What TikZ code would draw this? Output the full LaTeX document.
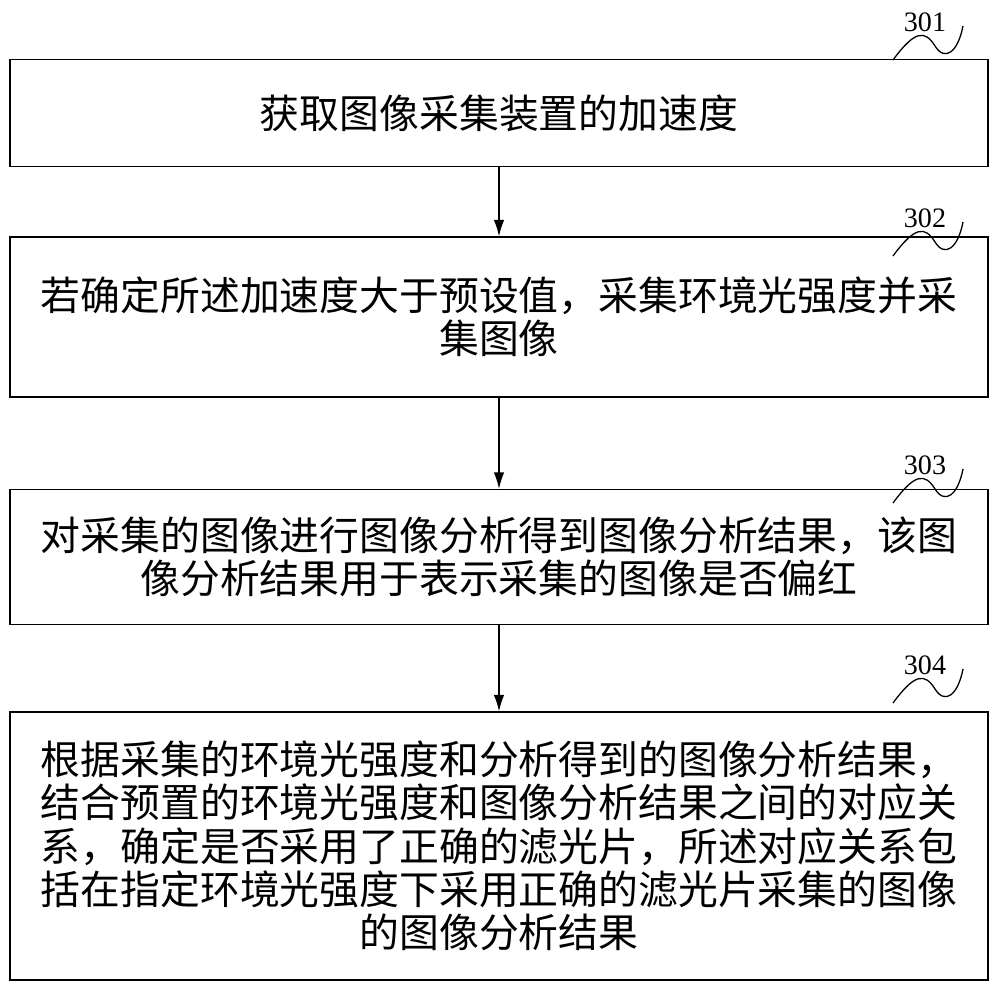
\documentclass[tikz,border=0pt]{standalone}
\usepackage{fontspec}
\newfontfamily\cjk{Noto Sans CJK SC}
\setmainfont{Liberation Serif}
\begin{document}
\begin{tikzpicture}[x=0.03cm,y=-0.03cm,
  box/.style={draw,line width=1.2pt,minimum width=978*0.03cm,align=center,font=\cjk\fontsize{34}{37}\selectfont,inner sep=0pt},
  arr/.style={-{Latex[length=14pt,width=9pt]},line width=1.1pt},
  lab/.style={font=\fontsize{24}{26}\selectfont,inner sep=0pt},
  sq/.style={line width=1.1pt}]
\usetikzlibrary{arrows.meta}
\useasboundingbox (0,0) rectangle (1000,993);
\node[box,minimum height=107*0.03cm] (b1) at (499,113) {获取图像采集装置的加速度};
\node[box,minimum height=160*0.03cm] (b2) at (499,317) {若确定所述加速度大于预设值，采集环境光强度并采\\集图像};
\node[box,minimum height=135*0.03cm] (b3) at (499,557) {对采集的图像进行图像分析得到图像分析结果，该图\\像分析结果用于表示采集的图像是否偏红};
\node[box,minimum height=268*0.03cm] (b4) at (499,846) {根据采集的环境光强度和分析得到的图像分析结果，\\结合预置的环境光强度和图像分析结果之间的对应关\\系，确定是否采用了正确的滤光片，所述对应关系包\\括在指定环境光强度下采用正确的滤光片采集的图像\\的图像分析结果};
\draw[arr] (b1) -- (b2);
\draw[arr] (b2) -- (b3);
\draw[arr] (b3) -- (b4);
\foreach \n/\t/\y in {l1/301/22,l2/302/218,l3/303/465,l4/304/665}{
  \node[lab] (\n) at (925,\y) {\t};
  \coordinate (\n s) at (893,\y+38);
  \coordinate (\n e) at (963,\y+4);
  \draw[sq] (\n s) .. controls (915,\y+8) and (925,\y+8) .. (935,\y+24) .. controls (945,\y+40) and (958,\y+30) .. (\n e);
}
\end{tikzpicture}
\end{document}
